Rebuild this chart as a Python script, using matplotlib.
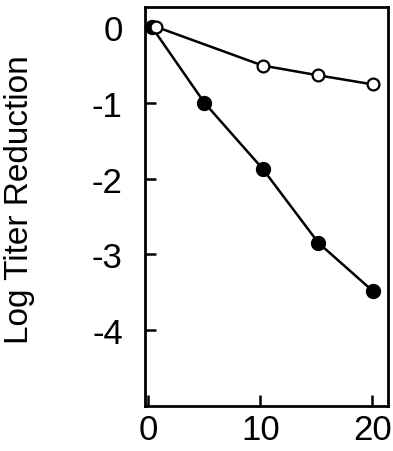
import matplotlib
matplotlib.use("Agg")
import matplotlib.pyplot as plt

# Data
open_x = [0.7, 10.2, 15.2, 20.1]
open_y = [0.0, -0.51, -0.64, -0.76]
filled_x = [0.3, 5.0, 10.2, 15.2, 20.1]
filled_y = [0.0, -1.0, -1.87, -2.85, -3.49]
xticks = [0, 10, 20]
yticks = [0, -1, -2, -3, -4]
ylabel = 'Log Titer Reduction'

plt.rcParams['font.family'] = ['Liberation Sans', 'DejaVu Sans']

fig = plt.figure(figsize=(3.93, 4.52), dpi=100)
ax = fig.add_axes([0.369, 0.0996, 0.618, 0.8824])

ax.plot(filled_x, filled_y, color='black', lw=1.8, marker='o', ms=10,
        mfc='black', mec='black', zorder=2)
ax.plot(open_x, open_y, color='black', lw=1.8, marker='o', ms=8.5,
        mfc='white', mec='black', mew=1.6, zorder=3)

ax.set_xlim(-0.3, 21.4)
ax.set_ylim(-5.0, 0.26)
ax.set_xticks(xticks)
ax.set_yticks(yticks)
ax.set_yticklabels(['0', '-1', '-2', '-3', '-4'])
ax.tick_params(direction='in', length=8, width=1.8, labelsize=25)
ax.tick_params(axis='y', pad=16)
ax.tick_params(axis='x', pad=5)
for s in ax.spines.values():
    s.set_linewidth(2.0)
fig.text(20 / 393, 1 - 200 / 452, ylabel, rotation=90, ha='center', va='center',
         fontsize=24)

fig.savefig('out.png', dpi=100)
